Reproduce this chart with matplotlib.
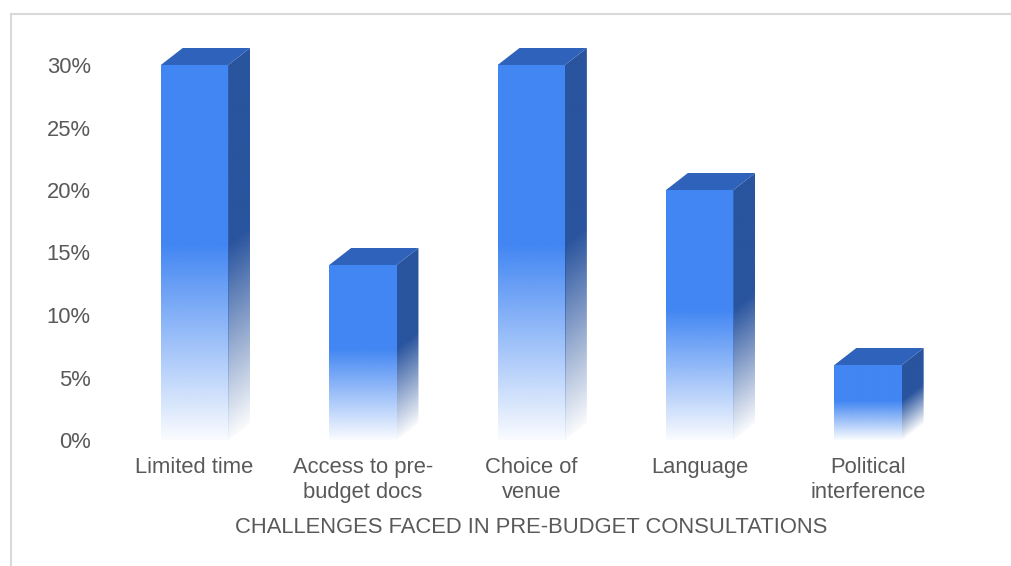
import numpy as np
import matplotlib
matplotlib.use("Agg")
import matplotlib.pyplot as plt
from matplotlib.patches import Polygon
from matplotlib.lines import Line2D
from matplotlib.ticker import FuncFormatter

categories = ["Limited time", "Access to pre-\nbudget docs", "Choice of\nvenue",
              "Language", "Political\ninterference"]
values = [30, 14, 30, 20, 6]
yticks = [0, 5, 10, 15, 20, 25, 30]
axis_title = "CHALLENGES FACED IN PRE-BUDGET CONSULTATIONS"

FRONT = np.array([0x42, 0x86, 0xF3]) / 255
SIDE = np.array([0x29, 0x54, 0x9E]) / 255
TOP = "#2F62BA"
TEXT = "#595959"

plt.rcParams["font.family"] = ["Liberation Sans", "DejaVu Sans"]

fig = plt.figure(figsize=(10.12, 5.66), dpi=100)
# y range extends a little above 30% so the extruded tops stay inside the axes
ymax = 31.5
ax = fig.add_axes([0.109, (566 - 440) / 566, 0.832, (440 - 46.25) / 566])

width = 0.40          # front face width (category units)
dx, dy = 0.13, 1.36   # depth offset of the 3-D extrusion


def fade(s, start=0.52):
    """Opacity along the bar height: solid above `start`, fading to white below."""
    return np.clip(0.03 + 0.97 * s / start, 0, 1)


for i, v in enumerate(values):
    x0, x1 = i - width / 2, i + width / 2

    # front face: vertical gradient
    n = 300
    s = np.linspace(0, 1, n)
    img = np.zeros((n, 1, 4))
    img[..., :3] = FRONT
    img[:, 0, 3] = fade(s)
    ax.imshow(img, extent=(x0, x1, 0, v), origin="lower", aspect="auto",
              interpolation="bilinear", zorder=3)

    # side face: sheared gradient clipped to the parallelogram
    side = Polygon([(x1, 0), (x1 + dx, dy), (x1 + dx, v + dy), (x1, v)],
                   closed=True, facecolor="none", edgecolor="none")
    ax.add_patch(side)
    nx, ny = 40, 300
    xs = np.linspace(x1, x1 + dx, nx)
    ys = np.linspace(0, v + dy, ny)
    X, Y = np.meshgrid(xs, ys)
    h = (Y - dy * (X - x1) / dx) / v
    simg = np.zeros((ny, nx, 4))
    simg[..., :3] = SIDE
    simg[..., 3] = fade(np.clip(h, 0, 1))
    im = ax.imshow(simg, extent=(x1, x1 + dx, 0, v + dy), origin="lower",
                   aspect="auto", interpolation="bilinear", zorder=3)
    im.set_clip_path(side)

    # top face
    ax.add_patch(Polygon([(x0, v), (x0 + dx, v + dy), (x1 + dx, v + dy), (x1, v)],
                         closed=True, facecolor=TOP, edgecolor="none", zorder=4))

ax.set_xlim(-0.5, len(values) - 0.5)
ax.set_ylim(0, ymax)
ax.set_yticks(yticks)
ax.yaxis.set_major_formatter(FuncFormatter(lambda y, _: f"{y:.0f}%"))
ax.set_xticks(range(len(categories)))
ax.set_xticklabels(categories, linespacing=1.25)
ax.tick_params(axis="both", length=0, labelsize=15.8, labelcolor=TEXT)
ax.tick_params(axis="y", pad=14)
ax.tick_params(axis="x", pad=12)
ax.set_xlabel(axis_title, fontsize=15.8, color=TEXT, labelpad=10)
for sp in ax.spines.values():
    sp.set_visible(False)
ax.set_facecolor("none")

# chart area border (left and top edges)
fig.add_artist(Line2D([11 / 1012, 11 / 1012], [0, 1 - 14 / 566],
                      transform=fig.transFigure, color="#D9D9D9", lw=1.5))
fig.add_artist(Line2D([11 / 1012, 1], [1 - 14 / 566, 1 - 14 / 566],
                      transform=fig.transFigure, color="#D9D9D9", lw=1.5))

fig.savefig("out.png", dpi=100)
